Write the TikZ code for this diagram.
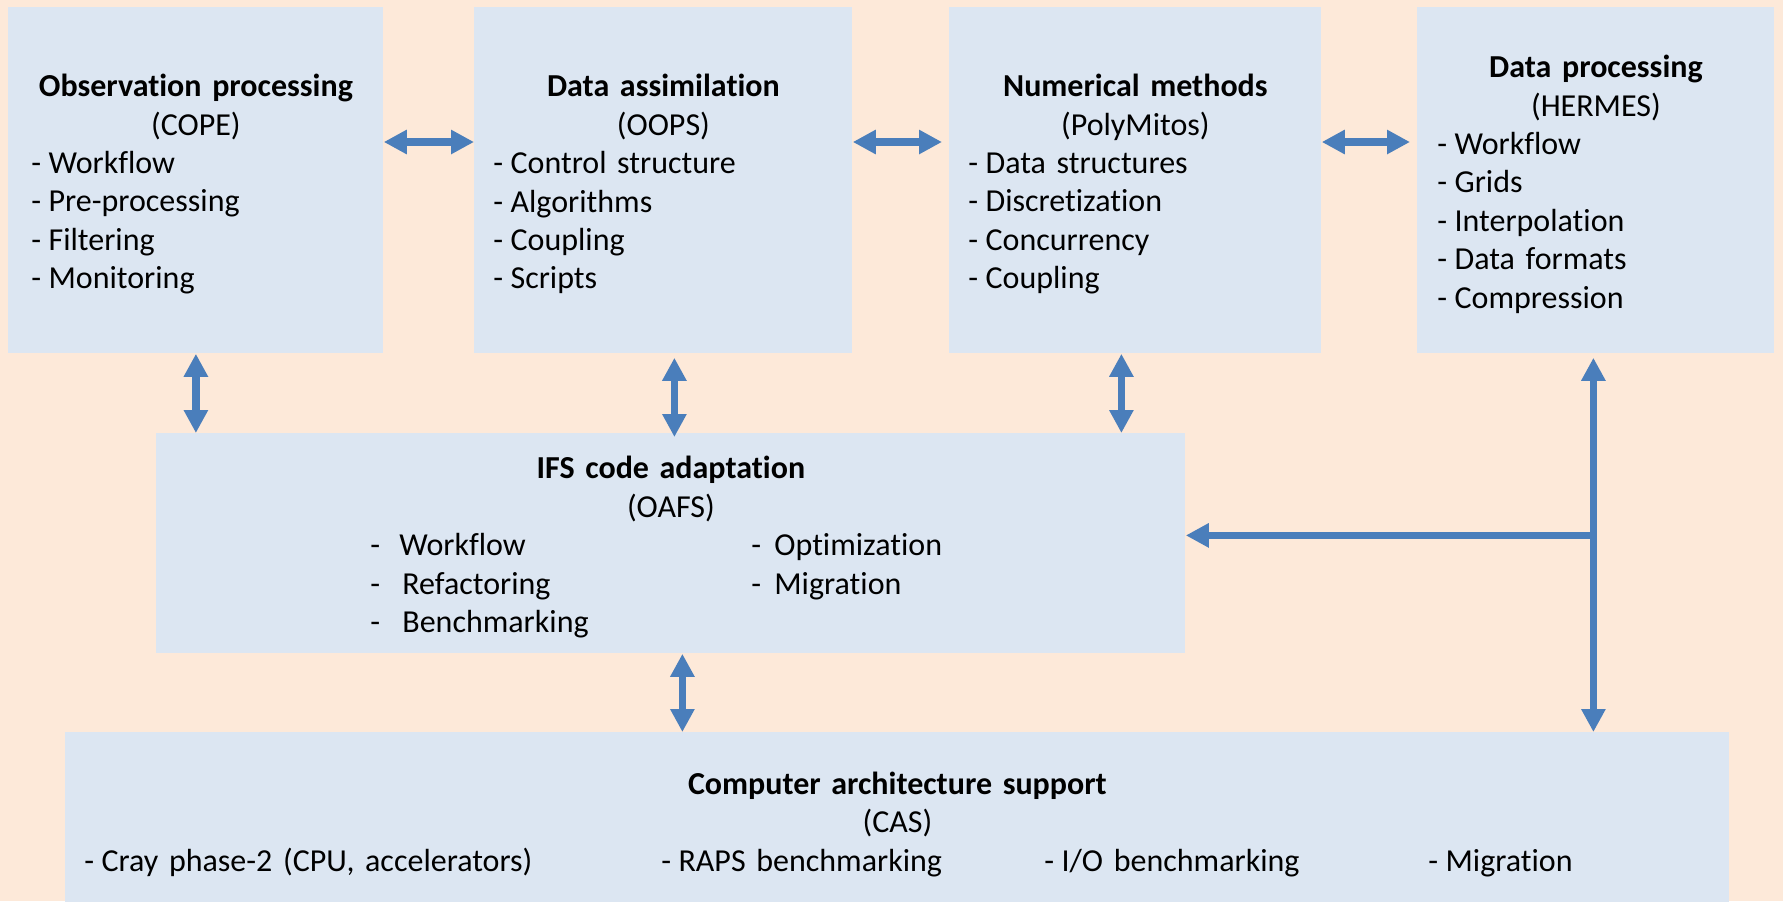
\documentclass[tikz,border=0pt]{standalone}
\usepackage{fontspec}
\setmainfont{Carlito}[Ligatures=NoCommon]
\usetikzlibrary{arrows.meta}

\definecolor{peach}{HTML}{FDE9D9}
\definecolor{paleblue}{HTML}{DCE6F2}
\definecolor{arrowblue}{HTML}{4A7EBB}

\tikzset{
  panel/.style={fill=paleblue, anchor=north west, align=left, inner ysep=0pt,
    font=\fontsize{16pt}{19.2pt}\selectfont},
  link/.style={<->, draw=arrowblue, line width=3.7pt},
  feed/.style={->, draw=arrowblue, line width=3.7pt},
}
% title and acronym, centred at the top of a panel
\newcommand\paneltitle[2]{{\centering\rule{0pt}{15pt}\textbf{#1}\par #2\par}}
% one dashed list entry
\newcommand\li[1]{\makebox[8.6pt][l]{-}#1}

\begin{document}
\begin{tikzpicture}[x=0.5pt, y=-0.5pt, >={Triangle[length=11.5pt,width=11.5pt]}]

  % fundo
  \useasboundingbox (0,0) rectangle (1783,901);
  \fill[peach] (0,0) rectangle (1783,901);
  \clip (0,0) rectangle (1783,901);

  % --- linha de cima ---
  \node[panel, minimum width=187.5pt, minimum height=173pt, text width=164.5pt, inner xsep=11.5pt]
    (cope) at (8,7)
    {\paneltitle{Observation processing}{(COPE)}\li{Workflow}\\\li{Pre-processing}\\\li{Filtering}\\\li{Monitoring}};
  \node[panel, minimum width=189pt, minimum height=173pt, text width=170pt, inner xsep=9.5pt]
    (oops) at (474,7)
    {\paneltitle{Data assimilation}{(OOPS)}\li{Control structure}\\\li{Algorithms}\\\li{Coupling}\\\li{Scripts}};
  \node[panel, minimum width=186pt, minimum height=173pt, text width=167pt, inner xsep=9.5pt]
    (polymitos) at (949,7)
    {\paneltitle{Numerical methods}{(PolyMitos)}\li{Data structures}\\\li{Discretization}\\\li{Concurrency}\\\li{Coupling}};
  \node[panel, minimum width=178.5pt, minimum height=173pt, text width=158.5pt, inner xsep=10pt]
    (hermes) at (1417,7)
    {\paneltitle{Data processing}{(HERMES)}\li{Workflow}\\\li{Grids}\\\li{Interpolation}\\\li{Data formats}\\\li{Compression}};

  % --- IFS ---
  \node[panel, minimum width=514.5pt, minimum height=110pt, text width=514.5pt, inner xsep=0pt]
    (oafs) at (156,433)
    {\paneltitle{IFS code adaptation}{(OAFS)}%
     \hspace*{107pt}\makebox[14.5pt][l]{-}\makebox[176pt][l]{Workflow}\makebox[11.5pt][l]{-}Optimization\\
     \hspace*{107pt}\makebox[16pt][l]{-}\makebox[174.5pt][l]{Refactoring}\makebox[11.5pt][l]{-}Migration\\
     \hspace*{107pt}\makebox[16pt][l]{-}Benchmarking};

  % --- CAS ---
  \node[panel, minimum width=832pt, minimum height=88pt, text width=832pt, inner xsep=0pt]
    (cas) at (65,732)
    {\paneltitle{Computer architecture support}{(CAS)}%
     \hspace*{9.5pt}\makebox[288.5pt][l]{\li{Cray phase-2 (CPU, accelerators)}}\makebox[191.5pt][l]{\li{RAPS benchmarking}}\makebox[192pt][l]{\li{I/O benchmarking}}\li{Migration}};

  % setas horizontais
  \coordinate (row) at (0,142);
  \draw[link] (cope.east |- row) -- (oops.west |- row);
  \draw[link, shorten >=3.5pt] (oops.east |- row) -- (polymitos.west |- row);
  \draw[link, shorten >=3.5pt] (polymitos.east |- row) -- (hermes.west |- row);

  % setas verticais
  \path ([xshift=5.5pt]oops.south) coordinate (oopsdown);
  \path ([xshift=-7pt]polymitos.south) coordinate (polydown);
  \path ([xshift=5.75pt]oafs.south) coordinate (oafsdown);
  \path ([xshift=-1.25pt]hermes.south) coordinate (hdown);
  \path ([yshift=4pt]oafs.east) coordinate (oafsin);
  \draw[link] (cope.south) -- (cope.south |- oafs.north);
  \draw[link, shorten <=2pt, shorten >=-2pt] (oopsdown) -- (oopsdown |- oafs.north);
  \draw[link] (polydown) -- (polydown |- oafs.north);
  \draw[link] (oafsdown) -- (oafsdown |- cas.north);
  \draw[link, shorten <=2pt] (hdown) -- (hdown |- cas.north);
  \draw[feed] (oafsin -| hdown) -- (oafsin);

\end{tikzpicture}
\end{document}
